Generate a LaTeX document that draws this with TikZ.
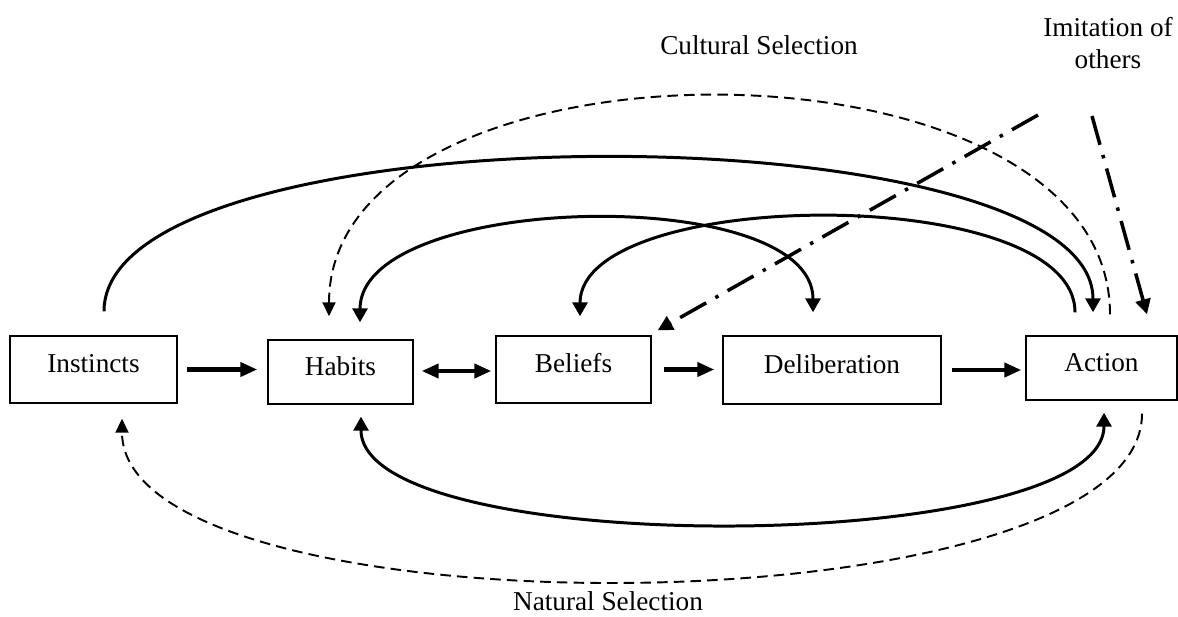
\documentclass[tikz,border=0pt]{standalone}
\usepackage{fontspec}
\setmainfont{Liberation Serif}
\usetikzlibrary{arrows.meta}
\tikzset{
every node/.style={font=\fontsize{15.5}{18.5}\selectfont},
stage/.style={draw,line width=0.8pt,inner sep=0pt,text height=0.36cm,text depth=0.23cm},
flowarrow/.style={line width=2.3pt,>={Triangle[length=0.34cm,width=0.28cm]}},
feedback/.style={line width=1.7pt,>={Triangle[length=0.28cm,width=0.3cm]}},
selection/.style={line width=1.1pt,dash pattern=on 6pt off 3.5pt,>={Triangle[length=0.28cm,width=0.26cm]}},
imitline/.style={line width=2pt,dash pattern=on 17pt off 6pt on 2pt off 6pt,>={Triangle[length=0.3cm,width=0.3cm]}}
}
\begin{document}
\begin{tikzpicture}
\useasboundingbox (0,0) rectangle (23.56,12.32);
\node[stage,minimum width=3.34cm,minimum height=1.34cm] (instincts) at (1.87,4.93) {Instincts};
\node[stage,minimum width=2.9cm,minimum height=1.28cm] (habits) at (6.81,4.88) {Habits};
\node[stage,minimum width=3.1cm,minimum height=1.34cm] (beliefs) at (11.47,4.93) {Beliefs};
\node[stage,minimum width=4.36cm,minimum height=1.36cm] (deliberation) at (16.64,4.92) {Deliberation};
\node[stage,minimum width=3.02cm,minimum height=1.28cm] (action) at (22.03,4.96) {Action};
\node[anchor=base] (cultural) at (15.18,11.22) {Cultural Selection};
\node[align=center] (imitation) at (22.16,11.46) {Imitation of\\others};
\node[anchor=base] (natural) at (12.16,0.12) {Natural Selection};
\coordinate (imitA) at (20.76,10.02);
\coordinate (imitB) at (21.84,10.0);

\draw[flowarrow,->] ([xshift=0.18cm]instincts.east) -- ([xshift=-0.2cm]instincts.east -| habits.west);
\draw[flowarrow,<->] ([xshift=0.16cm,yshift=0.02cm]habits.east) -- ([xshift=-0.08cm,yshift=0.02cm]habits.east -| beliefs.west);
\draw[flowarrow,->] ([xshift=0.24cm]beliefs.east) -- ([xshift=-0.16cm]beliefs.east -| deliberation.west);
\draw[flowarrow,->] ([xshift=0.2cm]deliberation.east) -- ([xshift=-0.08cm]deliberation.east -| action.west);

\draw[feedback,->] ([xshift=0.21cm,yshift=0.48cm]instincts.north) .. controls +(0,4.1) and +(0,4.1) .. ([xshift=-0.17cm,yshift=0.46cm]action.north);
\draw[feedback,<->] ([xshift=0.39cm,yshift=0.34cm]habits.north) .. controls +(0,2.6) and +(0,2.6) .. ([xshift=-0.38cm,yshift=0.46cm]deliberation.north);
\draw[feedback,->] ([xshift=-0.53cm,yshift=0.46cm]action.north) .. controls +(0,2.6) and +(0,2.6) .. ([xshift=0.13cm,yshift=0.38cm]beliefs.north);
\draw[feedback,<->] ([xshift=0.41cm,yshift=-0.24cm]habits.south) .. controls +(0,-2.88) and +(0,-2.88) .. ([xshift=0.05cm,yshift=-0.24cm]action.south);

\draw[selection,->] ([xshift=0.17cm,yshift=0.42cm]action.north) .. controls +(0,5.84) and +(0,5.84) .. ([xshift=-0.23cm,yshift=0.46cm]habits.north);
\draw[selection,->] ([xshift=0.81cm,yshift=-0.26cm]action.south) .. controls +(0,-4.4) and +(0,-4.4) .. ([xshift=0.57cm,yshift=-0.3cm]instincts.south);

\draw[imitline,->] (imitA) -- ([xshift=0.12cm,yshift=0.1cm]beliefs.north east);
\draw[imitline,->] (imitB) -- ([xshift=0.91cm,yshift=0.42cm]action.north);
\end{tikzpicture}
\end{document}
